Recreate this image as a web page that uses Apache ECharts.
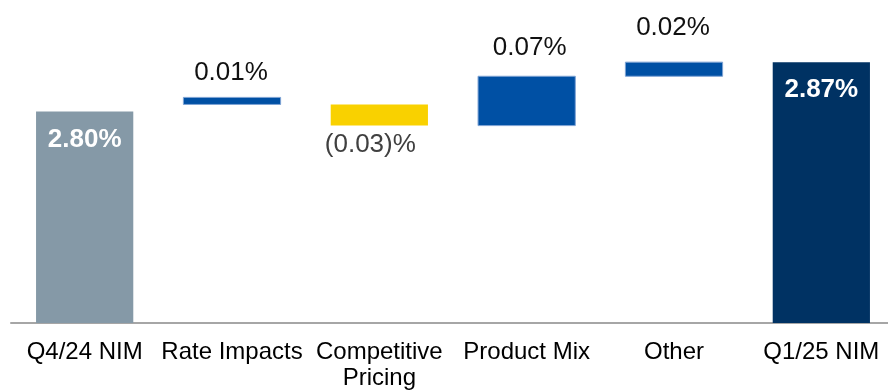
<!DOCTYPE html>
<html>
<head>
<meta charset="utf-8">
<script src="https://cdn.jsdelivr.net/npm/echarts@6/dist/echarts.min.js"></script>
<style>
  html, body { margin: 0; padding: 0; background: #ffffff; }
  #chart { width: 888px; height: 391px; }
</style>
</head>
<body>
<div id="chart"></div>
<script>
// ---- data ----
const categories = ['Q4/24 NIM', 'Rate Impacts', 'Competitive\nPricing', 'Product Mix', 'Other', 'Q1/25 NIM'];
const barLow  = [2.50, 2.81, 2.78, 2.78, 2.85, 2.50];
const barHigh = [2.80, 2.82, 2.81, 2.85, 2.87, 2.87];
const valueLabels = ['2.80%', '0.01%', '(0.03)%', '0.07%', '0.02%', '2.87%'];
const barKind = ['total', 'up', 'down', 'up', 'up', 'total'];

// ---- styling ----
const barColors = ['#8599a7', '#0050a4', '#f9d100', '#0050a4', '#0050a4', '#003263'];
const labelGap = [28, 25, 19, 28, 34, 28];
const labelShift = [0, -1, -9, 3, -1, 0];

const chart = echarts.init(document.getElementById('chart'), null, { renderer: 'canvas' });

const seriesData = categories.map((c, i) => [i, barLow[i], barHigh[i]]);

chart.setOption({
  animation: false,
  backgroundColor: '#ffffff',
  grid: { left: 11, width: 884, top: 41, bottom: 68, containLabel: false, outerBoundsMode: 'none' },
  xAxis: {
    type: 'category',
    data: categories,
    axisLine: { show: true, lineStyle: { color: '#a6a6a6', width: 2 } },
    axisTick: { show: false },
    axisLabel: {
      color: '#000000',
      fontSize: 24,
      fontFamily: 'Liberation Sans, Arial, sans-serif',
      lineHeight: 26,
      margin: 16,
      interval: 0
    },
    splitLine: { show: false }
  },
  yAxis: {
    type: 'value',
    min: 2.5,
    max: 2.9,
    show: false,
    splitLine: { show: false }
  },
  series: [{
    type: 'custom',
    data: seriesData,
    encode: { x: 0, y: [1, 2] },
    clip: false,
    renderItem: function (params, api) {
      const i = api.value(0);
      const lo = api.value(1);
      const hi = api.value(2);
      const pLo = api.coord([i, lo]);
      const pHi = api.coord([i, hi]);
      const bw = api.size([1, 0])[0] * 0.66;
      const x = pLo[0] - bw / 2;
      const yTop = Math.min(pLo[1], pHi[1]);
      const h = Math.abs(pLo[1] - pHi[1]);
      const kind = barKind[i];
      const children = [{
        type: 'rect',
        shape: { x: x, y: yTop, width: bw, height: h },
        style: {
          fill: barColors[i],
          stroke: kind === 'up' ? '#7ea3d4' : null,
          lineWidth: kind === 'up' ? 1 : 0
        }
      }];
      let ly, color, weight;
      if (kind === 'total') {
        ly = yTop + labelGap[i];
        color = '#ffffff';
        weight = 'bold';
      } else if (kind === 'up') {
        ly = yTop - labelGap[i];
        color = '#111111';
        weight = 'normal';
      } else {
        ly = yTop + h + labelGap[i];
        color = '#404040';
        weight = 'normal';
      }
      children.push({
        type: 'text',
        style: {
          text: valueLabels[i],
          x: pLo[0] + labelShift[i],
          y: ly,
          align: 'center',
          verticalAlign: 'middle',
          fill: color,
          fontSize: 26,
          fontWeight: weight,
          fontFamily: 'Liberation Sans, Arial, sans-serif'
        }
      });
      return { type: 'group', children: children };
    }
  }]
});
</script>
</body>
</html>
